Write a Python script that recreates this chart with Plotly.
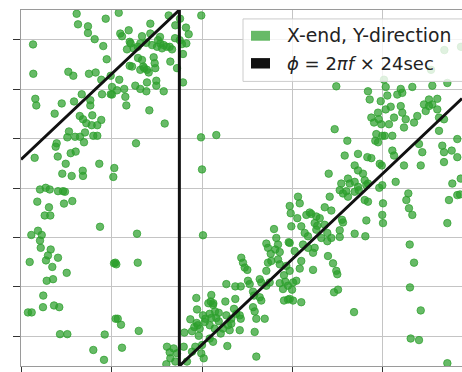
import plotly.graph_objects as go

# ---- data (frequency in mHz, phase in degrees) ----
freq_mhz = [
    176.15, 176.3, 177.4, 177.4, 179.36, 171.33, 178.14, 179.09, 179.47, 171.36,
    175.23, 175.78, 177.51, 178.25, 178.87, 179.91, 171.58, 171.69, 173.72, 174.5,
    175.86, 176.71, 177.66, 177.66, 178.95, 179.91, 176.49, 176.85, 177.22, 177.88,
    177.81, 178.43, 178.87, 175.3, 175.12, 175.97, 176.52, 177.07, 177.99, 178.43,
    176.96, 173.94, 173.83, 174.06, 171.51, 175.49, 176.04, 174.94, 174.56, 175.6,
    176.82, 176.85, 178.65, 180.2, 172.1, 172.73, 173.17, 174.09, 174.64, 174.86,
    171.8, 174.75, 175.67, 173.09, 172.62, 173.24, 178.73, 171.14, 171.88, 172.29,
    172.1, 172.18, 173.28, 172.98, 174.09, 172.76, 170.96, 173.46, 175.05, 172.84,
    173.54, 180.28, 172.46, 170.77, 171.18, 172.43, 173.65, 174.23, 174.31, 175.12,
    179.25, 177.99, 179.17, 180.46,
    180.8, 184.29, 186.32, 187.05, 188.23, 188.53, 189.92, 180.97, 181.16, 181.9,
    182.01, 183.37, 184.29, 183.18, 183.85, 184.48, 185.03, 185.39, 185.58, 185.77,
    186.43, 186.69, 187.54, 187.79, 188.27, 181.71, 182.45, 182.9, 183.37, 184.66,
    184.77, 184.84, 186.5, 187.9, 187.24, 182.01, 182.27, 183.18, 183.62, 183.92,
    184.11, 180.86, 182.63, 183.18, 183.85, 183.92, 184.95, 184.95, 185.77, 187.9,
    180.06, 180.06, 180.61, 181.41, 181.53, 181.64, 184.18, 185.88, 182.71, 180.31,
    189.89, 190.0, 185.36, 186.1, 187.57, 182.12, 182.93, 185.14, 187.02, 183.51,
    191.58,
    182.82, 190.11, 180.42, 180.53, 182.9, 180.69, 181.05, 183.01, 181.16, 189.37,
    189.45, 188.71, 189.15, 189.53, 188.05, 188.9, 189.64, 186.13, 186.43, 186.87,
    187.24, 187.98, 186.5, 187.05, 186.06, 188.34, 188.9, 189.26, 190.0, 190.19,
    190.37,
    199.69, 199.8, 199.87, 197.96, 197.11, 197.29, 198.21, 198.4, 198.1, 198.59,
    197.59, 199.58, 194.34, 194.53, 194.72, 195.01, 197.29, 197.66, 197.11, 198.4,
    198.59, 199.32, 199.06, 199.21, 199.5, 199.95, 198.95, 199.06, 199.5, 200.06,
    198.59, 195.08, 195.27, 196.38, 196.55, 197.11, 197.48, 196.38, 196.55, 195.64,
    195.75, 195.64, 195.82, 196.0, 196.93, 195.82, 196.0, 193.68, 194.28, 192.69,
    191.03, 190.96, 191.22, 192.58, 193.68, 193.54, 193.79, 194.17, 194.28, 193.24,
    192.69, 191.85, 191.58, 191.85, 191.03, 190.85, 190.11, 190.3, 190.85, 191.4,
    192.32, 192.87, 193.06, 193.24, 192.07, 190.85, 191.22, 192.8, 194.17, 189.75,
    189.92, 190.7, 191.25, 191.44, 189.42,
    204.84, 208.34, 208.53, 208.71, 209.01, 209.45, 209.53, 209.81, 209.26, 209.15,
    209.45, 204.66, 206.06, 205.77, 207.24, 208.27, 208.71, 209.64, 206.87, 207.24,
    207.79, 204.0, 206.13, 206.32, 205.39, 206.87, 207.98, 208.34, 205.22, 205.95,
    207.32, 210.19,
    207.24, 208.16, 205.58, 206.13, 206.87, 208.34, 207.98, 210.0, 200.61, 200.8,
    204.11, 203.56, 204.29, 201.9, 202.08, 201.53, 202.63, 203.01, 200.53, 200.97,
    202.45, 202.74, 202.63, 203.56, 203.85, 205.22, 205.47, 205.58, 205.22, 204.29,
    206.87, 208.05, 208.16, 210.0, 201.35, 201.71, 203.18, 203.85, 201.16, 202.45,
    202.27, 201.71, 200.24, 199.69, 200.97, 200.8, 202.27, 203.92, 204.48, 204.84,
    204.95, 199.69, 200.42, 200.06, 205.03, 204.59, 199.69, 200.97, 206.8, 209.59,
    210.3, 211.96, 213.24, 215.45, 217.11, 210.48, 211.58, 212.13, 209.75, 210.3,
    210.85, 211.96, 212.13, 211.22, 210.66, 212.51, 212.32, 211.03, 209.92, 213.43,
    213.79, 214.72, 215.08, 215.45, 216.0, 216.0, 216.19, 216.19, 214.53, 215.08,
    216.74, 216.55, 216.74, 216.74, 217.59, 218.21, 218.21, 218.59, 211.03, 211.22,
    212.32, 213.98, 214.34, 214.17, 209.86, 211.4, 209.92, 217.66, 218.21, 217.29,
    212.8, 212.58, 212.87, 213.24, 209.92, 217.11, 212.95, 213.43, 212.98, 214.17,
    213.06, 213.98, 217.11, 218.62, 216.78, 215.31, 218.51, 210.11,
]
phase_deg = [
    176.2, 165.5, 163.5, 156.8, 171.2, 145.2, 150.5, 143.5, 130.2, 115.5,
    117.5, 113.5, 115.5, 116.8, 109.5, 113.5, 90.2, 83.5, 75.2, 85.5,
    87.5, 94.8, 88.8, 83.5, 94.8, 94.8, 72.8, 69.5, 65.5, 73.5,
    63.5, 63.5, 68.8, 57.2, 51.2, 51.8, 51.8, 56.2, 52.8, 52.8,
    46.2, 45.2, 41.8, 31.8, 30.5, 35.2, 36.8, 24.5, 14.5, 12.2,
    17.5, 12.2, 24.5, 11.2, -1.5, 0.2, -1.5, -3.2, -3.2, -3.8,
    -13.8, -15.8, -13.2, -19.5, -27.8, -27.8, -39.2, -47.5, -43.2, -47.5,
    -53.2, -60.5, -62.2, -68.2, -70.5, -73.2, -74.8, -79.8, -85.8, -93.8,
    -92.2, -76.2, -108.8, -125.8, -125.8, -120.5, -118.8, -120.5, -147.8, -147.8,
    -148.2, -163.8, -173.8, -132.2,
    177.2, 166.2, 174.5, 164.5, 162.2, 155.5, 174.5, 156.2, 153.5, 159.5,
    147.8, 153.5, 156.2, 146.2, 146.8, 144.5, 142.8, 146.2, 141.2, 144.5,
    142.8, 140.2, 149.5, 145.5, 146.2, 140.2, 141.2, 142.8, 129.5, 132.2,
    126.2, 121.2, 127.8, 135.5, 121.2, 123.5, 122.8, 119.5, 121.2, 119.5,
    116.8, 109.5, 103.5, 100.2, 97.8, 106.8, 108.5, 103.5, 97.8, 106.8,
    102.2, 94.5, 98.8, 100.2, 92.2, 83.5, 78.5, 65.2, 45.2, 20.2,
    51.2, 18.8, 152.8, 142.8, 171.2, 146.2, 131.5, 149.5, 151.5, 122.8,
    53.5,
    -46.2, -47.8, -75.5, -77.2, -75.5, -132.2, -138.2, -144.5, -161.5, -111.2,
    -122.8, -132.8, -140.5, -138.8, -146.2, -144.8, -149.5, -160.5, -166.2, -162.2,
    -167.2, -160.5, -172.2, -175.5, -178.2, -175.5, -165.5, -160.5, -158.8, -172.2,
    -132.2,
    -18.2, -25.5, -38.8, -41.5, -56.2, -60.5, -50.5, -57.2, -62.2, -64.8,
    -66.5, -54.8, -70.5, -75.5, -80.5, -82.8, -75.5, -73.8, -83.8, -72.2,
    -77.2, -78.8, -88.2, -94.8, -98.8, -102.8, -102.2, -113.8, -112.8, -113.8,
    -96.2, -93.8, -97.2, -92.2, -95.5, -98.8, -95.5, -110.5, -113.8, -104.8,
    -108.8, -120.5, -124.8, -132.2, -132.2, -145.5, -170.5, -99.5, -99.5, -97.2,
    -108.2, -114.8, -118.2, -114.8, -112.2, -122.2, -127.2, -128.8, -132.2, -132.2,
    -128.8, -126.2, -131.5, -134.8, -131.5, -127.2, -128.8, -135.5, -138.8, -142.2,
    -142.2, -138.8, -143.8, -137.2, -147.2, -152.2, -155.5, -159.8, -143.8, -142.2,
    -167.2, -116.5, -116.5, -124.8, -136.5,
    102.8, 97.8, 89.5, 71.2, 66.2, 76.2, 69.5, 64.5, 54.5, 47.8,
    46.2, 59.5, 47.8, 32.8, 34.5, 31.2, 30.2, 24.5, 22.8, 17.8,
    14.5, 14.5, 9.5, 4.5, 4.5, 6.2, 7.8, 4.5, -2.2, -3.2,
    -2.2, 52.8,
    1.2, 2.8, -5.5, -8.8, -3.8, -13.8, -12.2, -15.5, -8.8, -15.5,
    -8.8, -19.5, -22.8, -24.8, -26.2, -27.2, -28.8, -30.5, -30.5, -38.8,
    -35.5, -38.2, -42.2, -37.2, -45.5, -42.8, -32.2, -34.8, -49.5, -50.5,
    -46.2, -48.8, -32.8, -35.5, -45.5, -48.8, -50.5, -53.8, -57.2, -60.5,
    -65.5, -60.5, -63.8, -55.5, -73.8, -81.5, -82.8, -68.8, -76.2, -83.8,
    -87.2, -83.8, -93.8, -95.5, -102.8, -105.5, -112.2, -115.5, -125.5, 0.2,
    102.2, 100.2, 102.2, 103.5, 106.2, 93.5, 94.5, 96.2, 87.8, 79.5,
    82.2, 82.8, 76.2, 71.2, 64.5, 69.5, 61.2, 52.8, 52.8, 66.2,
    72.8, 77.8, 82.8, 84.5, 90.2, 79.5, 71.2, 57.8, 84.5, 89.5,
    69.5, 42.8, 36.2, 26.2, 37.8, 49.5, 31.2, 9.5, 37.8, 32.8,
    22.8, 44.5, 36.2, 22.8, 22.8, 6.2, 2.8, 4.5, -7.2, -12.2,
    -5.5, -12.2, -20.5, -27.2, -27.2, -35.5, -57.2, -75.5, -100.5, -123.8,
    -152.2, -153.8, -177.2, 142.8, 139.5, 119.5, -6.5, 109.5,
]

# reference line  phi = 2*pi*f*24s (wrapped)
line_freq_mhz = [170.0, 187.5, 187.5, 218.73]
line_phase_deg = [28.8, 180.0, -180.0, 90.5]

legend_labels = ["X-end, Y-direction", "<i>ϕ</i> = 2<i>πf</i> × 24sec"]

GREEN = "rgba(44,160,44,0.72)"

fig = go.Figure()
fig.add_trace(go.Scatter(
    x=freq_mhz, y=phase_deg, mode="markers",
    marker=dict(size=7.5, color=GREEN, line=dict(width=1, color=GREEN)),
    showlegend=False, hoverinfo="skip"))
fig.add_trace(go.Scatter(
    x=line_freq_mhz, y=line_phase_deg, mode="lines",
    line=dict(color="#111111", width=3), showlegend=False, hoverinfo="skip"))

# plot area: left 21px, top 10px, width 441px, height 359px
def px_x(p):
    return (p - 21) / 441.0

def px_y(p):
    return (369 - p) / 359.0

shapes = [
    dict(type="rect", xref="paper", yref="paper", layer="above",
         x0=px_x(243), x1=px_x(475), y0=px_y(82), y1=px_y(19),
         fillcolor="rgba(255,255,255,0.8)", line=dict(color="#cccccc", width=1)),
    dict(type="rect", xref="paper", yref="paper", layer="above",
         x0=px_x(251), x1=px_x(270), y0=px_y(41), y1=px_y(31),
         fillcolor=GREEN, line=dict(width=0)),
    dict(type="rect", xref="paper", yref="paper", layer="above",
         x0=px_x(251), x1=px_x(270), y0=px_y(69), y1=px_y(58.5),
         fillcolor="#111111", line=dict(width=0)),
]
annotations = [
    dict(xref="paper", yref="paper", x=px_x(285), y=px_y(35.5), text=legend_labels[0],
         showarrow=False, xanchor="left", yanchor="middle",
         font=dict(family="DejaVu Sans", size=18.8, color="#222222")),
    dict(xref="paper", yref="paper", x=px_x(285), y=px_y(63.5), text=legend_labels[1],
         showarrow=False, xanchor="left", yanchor="middle",
         font=dict(family="DejaVu Sans", size=18, color="#222222")),
]

fig.update_layout(
    width=462, height=372,
    margin=dict(l=21, r=0, t=10, b=3),
    paper_bgcolor="white", plot_bgcolor="white",
    showlegend=False,
    shapes=shapes, annotations=annotations,
    font=dict(family="DejaVu Sans"),
)
fig.update_xaxes(
    range=[170.0, 218.73], tick0=170, dtick=10, showticklabels=False,
    showgrid=True, gridcolor="#c4c4c4", gridwidth=1, zeroline=False,
    showline=True, linecolor="#9a9a9a", linewidth=1, mirror=True,
    ticks="outside", ticklen=6, tickcolor="#333333", tickwidth=1,
)
fig.update_yaxes(
    range=[-180, 180], tick0=0, dtick=50, showticklabels=False,
    showgrid=True, gridcolor="#c4c4c4", gridwidth=1, zeroline=False,
    showline=True, linecolor="#9a9a9a", linewidth=1, mirror=False,
    ticks="outside", ticklen=7, tickcolor="#333333", tickwidth=1,
)

fig.write_html(
    "out.html",
    config={"displayModeBar": False},
    post_script="document.body.style.margin='0px';document.body.style.overflow='hidden';",
)
